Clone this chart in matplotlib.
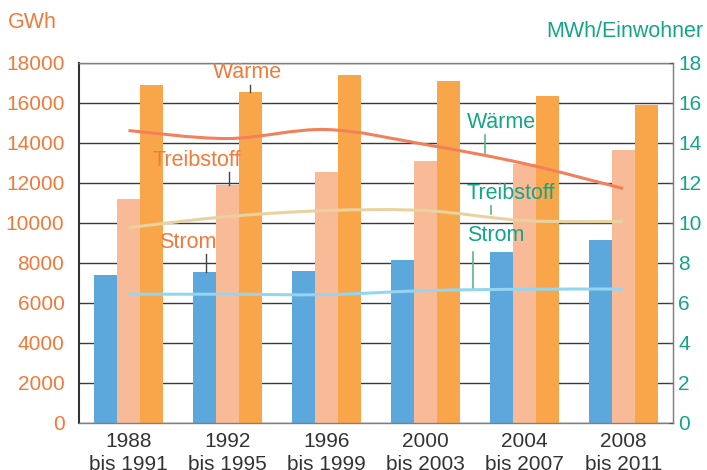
import matplotlib
matplotlib.use("Agg")
import matplotlib.pyplot as plt
import numpy as np
from matplotlib.path import Path
from matplotlib.patches import PathPatch

plt.rcParams['font.family'] = ['Liberation Sans', 'DejaVu Sans']

categories = ["1988\nbis 1991", "1992\nbis 1995", "1996\nbis 1999",
              "2000\nbis 2003", "2004\nbis 2007", "2008\nbis 2011"]
strom_gwh = [7400, 7550, 7600, 8150, 8550, 9150]
treibstoff_gwh = [11200, 11900, 12550, 13100, 12950, 13650]
waerme_gwh = [16900, 16550, 17400, 17100, 16350, 15900]
waerme_pc = [14.6, 14.2, 14.65, 13.9, 12.95, 11.7]
treibstoff_pc = [9.75, 10.3, 10.6, 10.6, 10.1, 10.05]
strom_pc = [6.42, 6.42, 6.4, 6.6, 6.67, 6.68]
left_ticks = [0, 2000, 4000, 6000, 8000, 10000, 12000, 14000, 16000, 18000]
right_ticks = [0, 2, 4, 6, 8, 10, 12, 14, 16, 18]

ORANGE_TXT = '#F07A3A'
GREEN_TXT = '#14A589'
C_STROM = '#5CA8DC'
C_TREIB = '#F9BB97'
C_WAERME = '#F9A64A'
L_WAERME = '#F2805A'
L_TREIB = '#E8D29F'
L_STROM = '#93D6F2'

fig = plt.figure(figsize=(7.07, 4.70), dpi=100)
ax = fig.add_axes([79/707, 1-422.7/470, (672.7-79)/707, (422.7-62.5)/470])
x = np.arange(len(categories))
w = 0.232
ax.bar(x - w, strom_gwh, w, color=C_STROM, zorder=2)
ax.bar(x, treibstoff_gwh, w, color=C_TREIB, zorder=2)
ax.bar(x + w, waerme_gwh, w, color=C_WAERME, zorder=2)
ax.set_xlim(-0.5, 5.5)
ax.set_ylim(0, 18000)
ax.set_yticks(left_ticks)
ax.set_yticklabels([str(t) for t in left_ticks])
ax.set_xticks(x)
ax.set_xticklabels(categories, fontsize=15, color='#333333', linespacing=1.25)
ax.tick_params(axis='x', length=0, pad=7)
ax.tick_params(axis='y', length=0, pad=10.5, labelsize=15, labelcolor=ORANGE_TXT)
ax.set_axisbelow(True)
ax.yaxis.grid(True, color='#3a3a3a', lw=1.0)
for s in ['top', 'right', 'bottom']:
    ax.spines[s].set_color('#808080')
    ax.spines[s].set_linewidth(1.0)
ax.spines['left'].set_color('#333333')
ax.spines['left'].set_linewidth(1.5)

ax2 = ax.twinx()
ax2.set_ylim(0, 18)
ax2.set_yticks(right_ticks)
ax2.tick_params(axis='y', length=3, direction='in', color='#555555', pad=4,
                labelsize=15, labelcolor=GREEN_TXT)
for s in ax2.spines.values():
    s.set_visible(False)
ax2.spines['right'].set_visible(True)
ax2.spines['right'].set_color('#808080')


def smooth_path(xs, ys):
    xs = np.asarray(xs, float)
    ys = np.asarray(ys, float)
    P = np.column_stack([xs, ys])
    Pe = np.vstack([P[0], P, P[-1]])
    verts = [P[0]]
    codes = [Path.MOVETO]
    for i in range(len(P) - 1):
        p0, p1, p2, p3 = Pe[i], Pe[i+1], Pe[i+2], Pe[i+3]
        c1 = p1 + (p2 - p0) / 6.0
        c2 = p2 - (p3 - p1) / 6.0
        verts += [c1, c2, p2]
        codes += [Path.CURVE4] * 3
    return Path(verts, codes)


for vals, col in [(waerme_pc, L_WAERME), (treibstoff_pc, L_TREIB), (strom_pc, L_STROM)]:
    ax2.add_patch(PathPatch(smooth_path(x, vals), facecolor='none', edgecolor=col,
                            lw=2.2, capstyle='butt', zorder=3))

fs = 15.5
# left (GWh) labels
ax2.text(1.207, 17.48, "Wärme", color=ORANGE_TXT, fontsize=fs, ha='center', va='center')
ax2.plot([1.227, 1.227], [16.88, 16.53], color='#444444', lw=1)
ax2.text(0.69, 13.1, "Treibstoff", color=ORANGE_TXT, fontsize=fs, ha='center', va='center')
ax2.plot([1.015, 1.015], [12.53, 11.89], color='#444444', lw=1)
ax2.text(0.596, 8.985, "Strom", color=ORANGE_TXT, fontsize=fs, ha='center', va='center')
ax2.plot([0.78, 0.78], [8.43, 7.53], color='#444444', lw=1)
# right (per capita) labels
ax2.text(3.42, 14.98, "Wärme", color=GREEN_TXT, fontsize=fs, ha='left', va='center')
ax2.plot([3.60, 3.60], [14.38, 13.49], color='#5DB58C', lw=1.2)
ax2.text(3.42, 11.43, "Treibstoff", color=GREEN_TXT, fontsize=fs, ha='left', va='center')
ax2.plot([3.66, 3.66], [10.83, 10.43], color='#5DB58C', lw=1.2)
ax2.text(3.42, 9.33, "Strom", color=GREEN_TXT, fontsize=fs, ha='left', va='center')
ax2.plot([3.477, 3.477], [8.55, 6.73], color='#5DB58C', lw=1.2)

fig.text(8/707, 1-23/470, "GWh", color=ORANGE_TXT, fontsize=15.5, ha='left', va='center')
fig.text(703/707, 1-31.7/470, "MWh/Einwohner", color=GREEN_TXT, fontsize=15.5, ha='right', va='center')

fig.savefig("out.png", dpi=100)
